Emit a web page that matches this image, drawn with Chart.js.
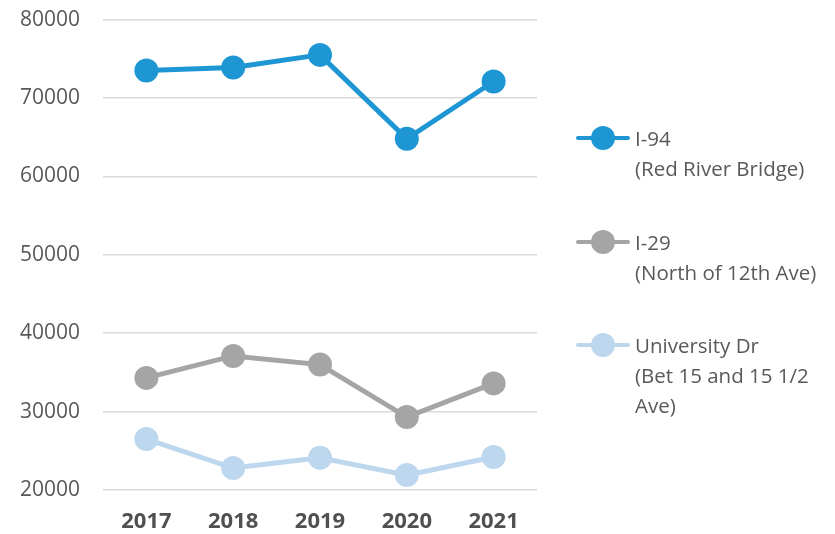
<!DOCTYPE html>
<html>
<head>
<meta charset="utf-8">
<script src="https://cdn.jsdelivr.net/npm/chart.js@4.4.1/dist/chart.umd.min.js"></script>
<style>
  html, body { margin: 0; padding: 0; background: #fff; overflow: hidden; }
  #wrap { position: relative; width: 835px; height: 534px; overflow: hidden; }
  #trafficChart { position: absolute; left: 0; top: -16px; }
  #legend { position: absolute; left: 576px; top: 0; font-family: "Open Sans", "Noto Sans", sans-serif; font-size: 20.5px; color: #595959; }
  .item { position: absolute; left: 0; width: 260px; }
  .swatch { position: absolute; left: 0; top: 3px; width: 54px; height: 24px; }
  .swatch .ln { position: absolute; left: 0; top: 10px; width: 54px; height: 4px; border-radius: 2px; }
  .swatch .dot { position: absolute; left: 15px; top: 0; width: 24px; height: 24px; border-radius: 50%; }
  .txt { position: absolute; left: 59px; top: 0; line-height: 30px; white-space: nowrap; }
</style>
</head>
<body>
<div id="wrap">
  <canvas id="trafficChart" width="835" height="560"></canvas>
  <div id="legend"></div>
</div>
<script>
// traffic counts by year
const years = ['2017', '2018', '2019', '2020', '2021'];
const i94 = [73500, 73900, 75500, 64800, 72100];
const i29 = [34300, 37100, 36000, 29300, 33600];
const universityDr = [26500, 22800, 24100, 21900, 24200];
const seriesLabels = [
  ['I-94', '(Red River Bridge)'],
  ['I-29', '(North of 12th Ave)'],
  ['University Dr', '(Bet 15 and 15 1/2', 'Ave)']
];
const COLORS = ['#1e96d3', '#a5a5a5', '#bdd7ee'];
const FONT = '"Open Sans", "Noto Sans", sans-serif';

const makeSet = (label, data, color) => ({
  label: label.join(' '),
  data: data,
  borderColor: color,
  backgroundColor: color,
  borderWidth: 5,
  pointRadius: 12,
  pointHoverRadius: 12,
  pointBorderWidth: 0,
  tension: 0
});

const ctx = document.getElementById('trafficChart');
new Chart(ctx, {
  type: 'line',
  data: {
    labels: years,
    datasets: [
      makeSet(seriesLabels[0], i94, COLORS[0]),
      makeSet(seriesLabels[1], i29, COLORS[1]),
      makeSet(seriesLabels[2], universityDr, COLORS[2])
    ]
  },
  options: {
    responsive: false,
    animation: false,
    layout: { padding: { left: 0, right: 298, top: 0, bottom: 10 } },
    plugins: { legend: { display: false }, tooltip: { enabled: false } },
    scales: {
      x: {
        offset: true,
        afterFit: s => { s.height = 44; },
        grid: { display: false },
        border: { display: false },
        ticks: { color: '#505050', padding: 11, font: { family: FONT, size: 22, weight: 'bold' } }
      },
      y: {
        min: 20000,
        max: 80000,
        afterFit: s => { s.width = 103; },
        grid: { color: '#d9d9d9', lineWidth: 1.5, drawTicks: false },
        border: { display: false },
        ticks: {
          stepSize: 10000,
          color: '#595959',
          padding: 23,
          font: { family: FONT, size: 21 },
          callback: v => String(v)
        }
      }
    }
  }
});

// legend on the right, built from the same labels and colours
const legendTops = [123, 227, 330];
const legend = document.getElementById('legend');
seriesLabels.forEach((lines, i) => {
  const item = document.createElement('div');
  item.className = 'item';
  item.style.top = legendTops[i] + 'px';
  item.innerHTML = '<div class="swatch"><div class="ln" style="background:' + COLORS[i] + '"></div>' +
    '<div class="dot" style="background:' + COLORS[i] + '"></div></div>' +
    '<div class="txt">' + lines.join('<br>') + '</div>';
  legend.appendChild(item);
});
</script>
</body>
</html>
